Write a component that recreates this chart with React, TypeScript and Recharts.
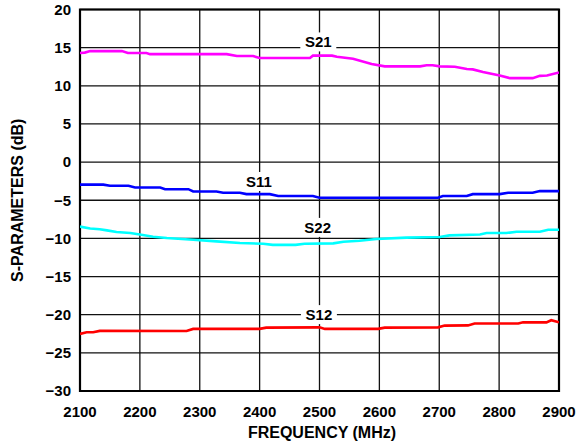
import React from "react";
import {
  LineChart,
  Line,
  XAxis,
  YAxis,
  CartesianGrid,
  ReferenceArea,
  ReferenceDot,
} from "recharts";

// Frequency ticks (MHz) and dB ticks
const freqTicks = [2100, 2200, 2300, 2400, 2500, 2600, 2700, 2800, 2900];
const dbTicks = [-30, -25, -20, -15, -10, -5, 0, 5, 10, 15, 20];

// S21 (gain)
const s21Freq = [2100, 2108, 2117, 2170, 2180, 2211, 2217, 2345, 2362, 2389, 2400, 2484, 2489, 2521, 2529, 2556, 2587, 2609, 2668, 2679, 2689, 2701, 2726, 2746, 2756, 2773, 2801, 2818, 2856, 2868, 2880, 2900];
const s21Val = [14.3, 14.35, 14.55, 14.55, 14.3, 14.3, 14.15, 14.15, 13.9, 13.9, 13.65, 13.65, 13.95, 13.95, 13.8, 13.55, 12.85, 12.55, 12.55, 12.7, 12.7, 12.55, 12.5, 12.2, 12.15, 11.8, 11.35, 11.0, 11.0, 11.3, 11.35, 11.75];

// S11 (input return loss)
const s11Freq = [2100, 2139, 2150, 2181, 2192, 2234, 2242, 2281, 2289, 2328, 2339, 2367, 2378, 2417, 2431, 2489, 2500, 2698, 2706, 2746, 2756, 2801, 2815, 2856, 2868, 2900];
const s11Val = [-2.95, -2.95, -3.1, -3.1, -3.32, -3.32, -3.55, -3.55, -3.85, -3.85, -4.02, -4.02, -4.2, -4.2, -4.45, -4.45, -4.67, -4.67, -4.45, -4.45, -4.2, -4.2, -4.02, -4.02, -3.8, -3.8];

// S22 (output return loss)
const s22Freq = [2100, 2117, 2133, 2145, 2161, 2184, 2200, 2222, 2245, 2289, 2328, 2367, 2406, 2422, 2460, 2475, 2523, 2540, 2567, 2595, 2645, 2701, 2717, 2768, 2779, 2812, 2829, 2868, 2882, 2900];
const s22Val = [-8.45, -8.7, -8.8, -8.95, -9.17, -9.3, -9.5, -9.78, -9.95, -10.17, -10.39, -10.6, -10.7, -10.85, -10.85, -10.7, -10.65, -10.43, -10.3, -10.08, -9.9, -9.82, -9.6, -9.48, -9.3, -9.3, -9.12, -9.12, -8.86, -8.86];

// S12 (reverse isolation)
const s12Freq = [2100, 2111, 2122, 2133, 2278, 2289, 2400, 2411, 2500, 2509, 2598, 2609, 2698, 2709, 2748, 2759, 2832, 2840, 2879, 2887, 2900];
const s12Val = [-22.52, -22.3, -22.3, -22.12, -22.14, -21.86, -21.86, -21.7, -21.66, -21.86, -21.86, -21.7, -21.66, -21.43, -21.4, -21.16, -21.16, -21.0, -21.0, -20.72, -21.0];

// Series labels
const labelNames = ["S21", "S11", "S22", "S12"];
const labelFreq = [2498, 2399, 2497, 2499];
const labelVal = [15.75, -2.54, -8.56, -19.99];

const toData = (f: number[], v: number[]) => f.map((x, i) => ({ f: x, v: v[i] }));
const s21Data = toData(s21Freq, s21Val);
const s11Data = toData(s11Freq, s11Val);
const s22Data = toData(s22Freq, s22Val);
const s12Data = toData(s12Freq, s12Val);

const FONT = "'Liberation Sans', Arial, Helvetica, sans-serif";

const fmt = (v: number) => (v < 0 ? "\u2212" + Math.abs(v) : String(v));

const makeLabelShape = (text: string) => (props: any) => {
  const { cx, cy } = props;
  return (
    <g>
      <rect x={cx - 18} y={cy - 9.5} width={36} height={19} fill="#fff" />
      <text
        x={cx}
        y={cy}
        textAnchor="middle"
        dominantBaseline="central"
        fontFamily={FONT}
        fontWeight="bold"
        fontSize={15}
        fill="#000"
      >
        {text}
      </text>
    </g>
  );
};

export default function App() {
  return (
    <div style={{ position: "absolute", left: 0, top: 0 }}>
      <LineChart
        width={576}
        height={447}
        margin={{ top: 9.5, right: 17, left: 0, bottom: 0 }}
      >
        <CartesianGrid stroke="#111" strokeWidth={1.3} />
        <XAxis
          type="number"
          dataKey="f"
          domain={[2100, 2900]}
          ticks={freqTicks}
          interval={0}
          allowDataOverflow
          height={56}
          axisLine={false}
          tickLine={false}
          tickSize={0}
          tickMargin={15}
          tick={{ fontFamily: FONT, fontWeight: "bold", fontSize: 15, fill: "#000" }}
          label={{
            value: "FREQUENCY (MHz)",
            position: "center",
            dx: 2.5,
            dy: 13,
            style: { fontFamily: FONT, fontWeight: "bold", fontSize: 16, fill: "#000" },
          }}
        />
        <YAxis
          type="number"
          domain={[-30, 20]}
          ticks={dbTicks}
          interval={0}
          allowDataOverflow
          width={80}
          axisLine={false}
          tickLine={false}
          tickSize={0}
          tickMargin={9}
          tickFormatter={fmt}
          tick={{ fontFamily: FONT, fontWeight: "bold", fontSize: 15, fill: "#000" }}
          label={{
            value: "S-PARAMETERS (dB)",
            angle: -90,
            position: "center",
            dx: -22.5,
            style: { fontFamily: FONT, fontWeight: "bold", fontSize: 16, fill: "#000", textAnchor: "middle" },
          }}
        />
        <ReferenceArea
          x1={2100}
          x2={2900}
          y1={-30}
          y2={20}
          fill="none"
          fillOpacity={0}
          stroke="#000"
          strokeWidth={2.2}
        />
        {labelNames.map((n, i) => (
          <ReferenceDot
            key={n}
            x={labelFreq[i]}
            y={labelVal[i]}
            r={0}
            shape={makeLabelShape(n)}
          />
        ))}
        <Line data={s21Data} dataKey="v" type="linear" stroke="#FF00FF" strokeWidth={2.6} dot={false} isAnimationActive={false} />
        <Line data={s11Data} dataKey="v" type="linear" stroke="#0000FF" strokeWidth={2.6} dot={false} isAnimationActive={false} />
        <Line data={s22Data} dataKey="v" type="linear" stroke="#00FFFF" strokeWidth={2.6} dot={false} isAnimationActive={false} />
        <Line data={s12Data} dataKey="v" type="linear" stroke="#FF0000" strokeWidth={2.6} dot={false} isAnimationActive={false} />
      </LineChart>
    </div>
  );
}
